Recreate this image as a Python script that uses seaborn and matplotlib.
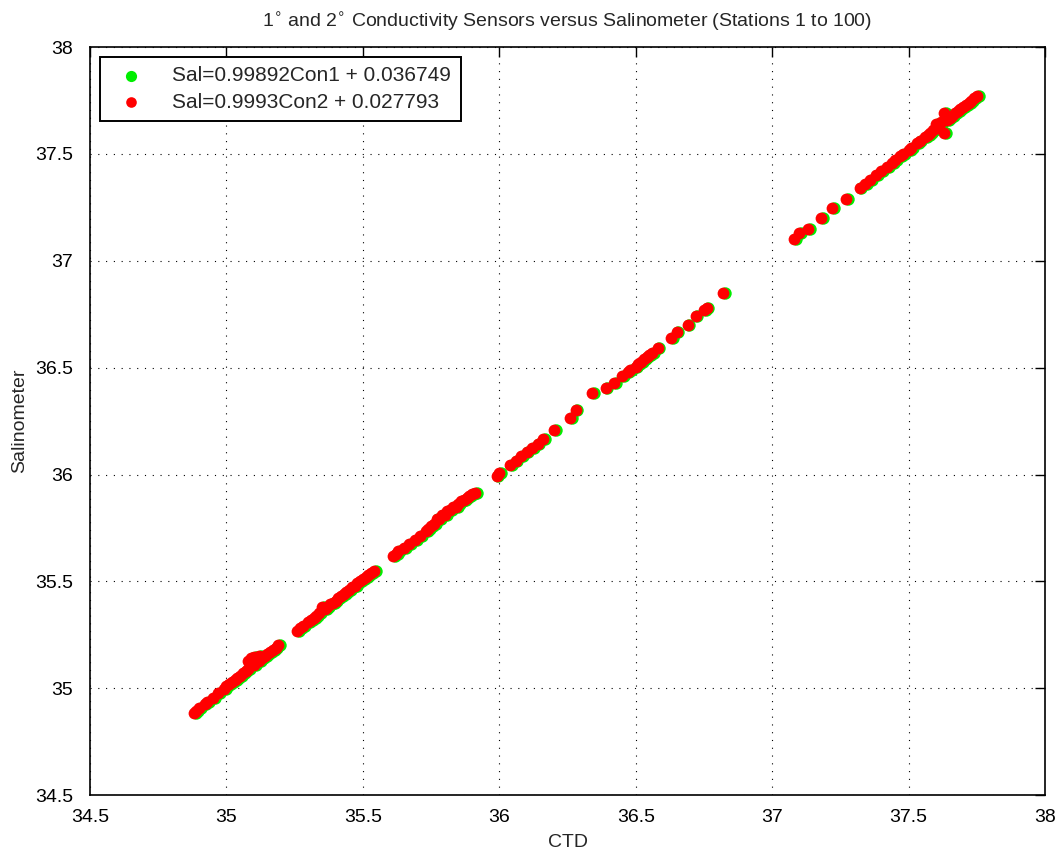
import numpy as np
import pandas as pd
import matplotlib.pyplot as plt
import seaborn as sns

# readings (CTD vs bottle salinometer)
ctd2 = [34.88, 34.89, 34.90, 34.92, 34.93, 34.95, 34.97, 34.99, 35.00, 35.01,
        35.02, 35.03, 35.04, 35.05, 35.06, 35.07, 35.08, 35.08, 35.09, 35.10,
        35.10, 35.11, 35.12, 35.12, 35.13, 35.14, 35.15, 35.16, 35.17, 35.18,
        35.19,
        35.26, 35.27, 35.28, 35.30, 35.31, 35.32, 35.33, 35.34, 35.35, 35.36,
        35.37, 35.38, 35.39, 35.40, 35.41, 35.42, 35.43, 35.44, 35.45, 35.46,
        35.47, 35.48, 35.49, 35.50, 35.51, 35.52, 35.53, 35.54,
        35.61, 35.62, 35.63, 35.65, 35.67, 35.69, 35.71, 35.73, 35.74, 35.75,
        35.76, 35.77, 35.78, 35.79, 35.80, 35.81, 35.82, 35.83, 35.84, 35.85,
        35.86, 35.87, 35.88, 35.89, 35.90, 35.91,
        35.99, 36.00, 36.04, 36.06, 36.08, 36.10, 36.12, 36.14, 36.16, 36.20,
        36.26, 36.28, 36.34, 36.39, 36.42, 36.45, 36.47, 36.48, 36.50, 36.51,
        36.52, 36.53, 36.54, 36.55, 36.56, 36.58, 36.63, 36.65, 36.69, 36.72,
        36.75, 36.76, 36.82,
        37.08, 37.10, 37.13, 37.18, 37.22, 37.27, 37.32, 37.34, 37.36, 37.38,
        37.40, 37.42, 37.44, 37.45, 37.47, 37.48, 37.50, 37.51, 37.53, 37.54,
        37.56, 37.57, 37.58, 37.59, 37.60, 37.61, 37.62, 37.63, 37.63, 37.64,
        37.65, 37.66, 37.67, 37.68, 37.69, 37.70, 37.71, 37.72, 37.73, 37.74,
        37.75]

ctd1 = [34.887, 34.897, 34.907, 34.927, 34.937, 34.957, 34.977, 34.997, 35.007, 35.017,
        35.027, 35.037, 35.047, 35.057, 35.067, 35.077, 35.087, 35.087, 35.097, 35.107,
        35.107, 35.117, 35.127, 35.127, 35.137, 35.147, 35.157, 35.167, 35.177, 35.187,
        35.197,
        35.267, 35.277, 35.287, 35.307, 35.317, 35.327, 35.337, 35.347, 35.357, 35.367,
        35.377, 35.387, 35.397, 35.407, 35.417, 35.427, 35.437, 35.447, 35.457, 35.467,
        35.477, 35.487, 35.497, 35.507, 35.517, 35.527, 35.537, 35.547,
        35.617, 35.627, 35.637, 35.657, 35.677, 35.697, 35.717, 35.737, 35.747, 35.757,
        35.767, 35.777, 35.787, 35.797, 35.807, 35.817, 35.827, 35.837, 35.847, 35.857,
        35.867, 35.877, 35.887, 35.897, 35.907, 35.917,
        35.996, 36.006, 36.046, 36.066, 36.086, 36.106, 36.126, 36.146, 36.166, 36.206,
        36.266, 36.286, 36.346, 36.396, 36.426, 36.456, 36.476, 36.486, 36.506, 36.516,
        36.526, 36.536, 36.546, 36.556, 36.566, 36.586, 36.636, 36.656, 36.696, 36.726,
        36.756, 36.766, 36.826,
        37.087, 37.107, 37.137, 37.187, 37.227, 37.277, 37.327, 37.347, 37.367, 37.387,
        37.407, 37.427, 37.447, 37.457, 37.477, 37.487, 37.507, 37.517, 37.537, 37.547,
        37.567, 37.577, 37.587, 37.597, 37.607, 37.617, 37.627, 37.637, 37.637, 37.647,
        37.657, 37.667, 37.677, 37.687, 37.697, 37.707, 37.717, 37.727, 37.737, 37.747,
        37.757]

sal = [34.884, 34.893, 34.905, 34.925, 34.936, 34.956, 34.978, 34.998, 35.008, 35.020,
       35.030, 35.040, 35.049, 35.058, 35.070, 35.080, 35.125, 35.090, 35.140, 35.110,
       35.145, 35.130, 35.150, 35.128, 35.140, 35.150, 35.160, 35.168, 35.178, 35.190,
       35.200,
       35.270, 35.282, 35.290, 35.308, 35.318, 35.330, 35.340, 35.352, 35.378, 35.372,
       35.382, 35.392, 35.400, 35.410, 35.420, 35.430, 35.440, 35.452, 35.460, 35.472,
       35.480, 35.490, 35.500, 35.512, 35.520, 35.530, 35.540, 35.548,
       35.618, 35.630, 35.640, 35.658, 35.675, 35.692, 35.712, 35.735, 35.745, 35.760,
       35.770, 35.790, 35.792, 35.810, 35.812, 35.830, 35.832, 35.850, 35.848, 35.862,
       35.875, 35.880, 35.890, 35.898, 35.908, 35.915,
       35.992, 36.008, 36.045, 36.065, 36.088, 36.105, 36.125, 36.145, 36.165, 36.210,
       36.265, 36.300, 36.380, 36.405, 36.430, 36.460, 36.480, 36.488, 36.505, 36.518,
       36.528, 36.540, 36.548, 36.560, 36.570, 36.590, 36.640, 36.665, 36.700, 36.740,
       36.770, 36.780, 36.850,
       37.100, 37.130, 37.150, 37.200, 37.245, 37.290, 37.340, 37.360, 37.380, 37.400,
       37.420, 37.440, 37.460, 37.470, 37.490, 37.500, 37.520, 37.530, 37.550, 37.560,
       37.580, 37.590, 37.600, 37.610, 37.640, 37.620, 37.650, 37.690, 37.600, 37.660,
       37.670, 37.680, 37.690, 37.700, 37.710, 37.720, 37.730, 37.740, 37.750, 37.760,
       37.770]

lab1 = "Sal=0.99892Con1 + 0.036749"
lab2 = "Sal=0.9993Con2 + 0.027793"
ticks = [34.5, 35, 35.5, 36, 36.5, 37, 37.5, 38]
tick_labels = ["34.5", "35", "35.5", "36", "36.5", "37", "37.5", "38"]

df1 = pd.DataFrame({"CTD": ctd1, "Salinometer": sal})
df2 = pd.DataFrame({"CTD": ctd2, "Salinometer": sal})

sns.set_style("white")
plt.rcParams["font.family"] = ["Liberation Sans", "DejaVu Sans"]

fig = plt.figure(figsize=(10.61, 8.57), dpi=100)
ax = fig.add_axes([0.0848, 0.0723, 0.9002, 0.8727])

sns.scatterplot(data=df1, x="CTD", y="Salinometer", color="#00ee00", s=80,
                linewidth=0, label=lab1, ax=ax)
sns.scatterplot(data=df2, x="CTD", y="Salinometer", color="#ff0000", s=72,
                linewidth=0, label=lab2, ax=ax)

ax.set_xlim(34.5, 38)
ax.set_ylim(34.5, 38)
ax.set_xticks(ticks)
ax.set_xticklabels(tick_labels)
ax.set_yticks(ticks)
ax.set_yticklabels(tick_labels)
ax.tick_params(direction="in", length=7, width=1, labelsize=14, top=True, right=True,
               colors="black")
ax.tick_params(axis="x", pad=10)
ax.tick_params(axis="y", pad=12)
ax.grid(True, linestyle=(0, (1, 6)), color="black", linewidth=0.8)
for sp in ax.spines.values():
    sp.set_color("black")
    sp.set_linewidth(1.2)

ax.set_xlabel("CTD", fontsize=14, labelpad=6)
ax.set_ylabel("Salinometer", fontsize=14, labelpad=5)
ax.set_title(r"1$^{\circ}$ and 2$^{\circ}$ Conductivity Sensors versus Salinometer (Stations 1 to 100)",
             fontsize=14, pad=14)

leg = ax.legend(loc="upper left", fontsize=15, frameon=True, fancybox=False,
                framealpha=1, borderpad=0.45, handletextpad=1.0, labelspacing=0.35,
                markerscale=0.9, borderaxespad=0, bbox_to_anchor=(0.011, 0.987))
leg.get_frame().set_edgecolor("black")
leg.get_frame().set_linewidth(1.4)

fig.savefig("out.png", dpi=100)
